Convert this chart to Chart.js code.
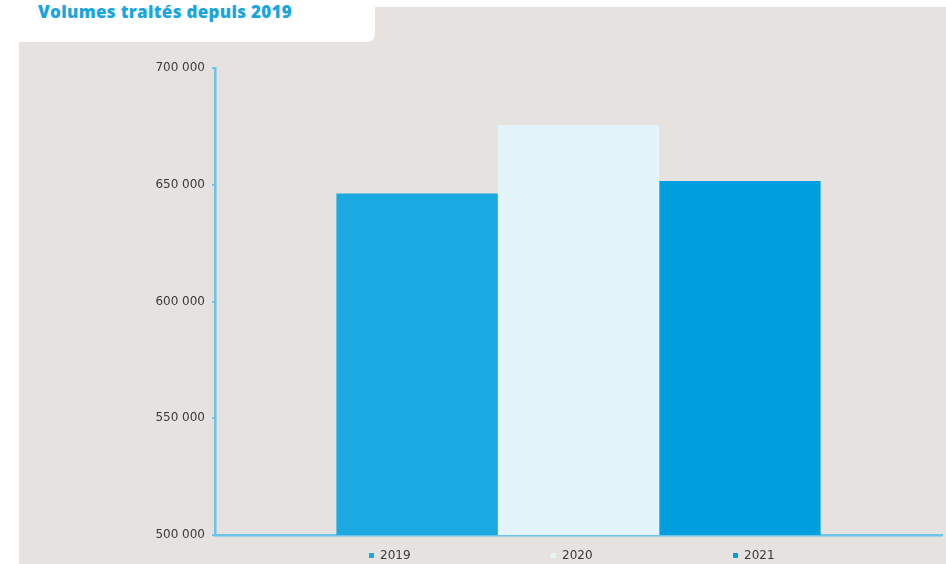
<!DOCTYPE html>
<html lang="fr">

<head>
    <meta charset="UTF-8">
    <script src="https://cdn.jsdelivr.net/npm/chart.js"></script>
    <title>Volumes traités depuis 2019</title>
    <style>
        body { margin: 0; background: #fff; width: 946px; height: 564px; position: relative; overflow: hidden; }
        #bg { position: absolute; left: 19px; top: 7px; width: 927px; height: 557px; background: #e6e2df; }
        #tab { position: absolute; left: 19px; top: 0; width: 356px; height: 42px; background: #fff; border-bottom-right-radius: 8px; }
        #title { position: absolute; left: 38px; top: 0px; font-family: "Open Sans", sans-serif; font-weight: 800; font-size: 17px; color: #1ba5de; letter-spacing: 0.3px; }
        #wrap { position: absolute; left: 0; top: 0; width: 946px; height: 564px; }
        #legend { position: absolute; left: 369px; top: 548px; display: flex; font-family: "DejaVu Sans", sans-serif; font-size: 12px; color: #3a3a3a; }
        #legend .item { width: 182px; display: flex; align-items: center; }
        #legend .box { width: 5px; height: 5px; margin-right: 6px; }
    </style>
</head>

<body>
    <div id="bg"></div>
    <div id="tab"></div>
    <div id="title">Volumes traités depuis 2019</div>
    <div id="wrap"><canvas id="myChart" width="946" height="564"></canvas></div>
    <div id="legend"></div>
    <script>
        // données
        let years = ['2019', '2020', '2021'];
        let volumes = [646300, 675600, 651600];
        let colors = ['#1ba9e1', '#e3f4fb', '#009fe0'];
        let y_min = 500000;
        let y_max = 700000;
        let y_step = 50000;

        let axisColor = '#6cc4ea';

        function formatNum(v) {
            return v.toString().replace(/\B(?=(\d{3})+(?!\d))/g, ' ');
        }

        let datasets = [];
        for (let i in years) {
            datasets.push({
                label: years[i],
                data: [volumes[i]],
                backgroundColor: colors[i],
                borderWidth: 0
            });
        }

        let configs = {
            type: 'bar',
            data: { labels: [''], datasets: datasets },
            options: {
                responsive: false,
                animation: false,
                layout: { padding: { top: 68, right: 4, bottom: 29, left: 0 } },
                datasets: { bar: { categoryPercentage: 0.666, barPercentage: 1 } },
                plugins: { legend: { display: false }, tooltip: { enabled: false } },
                scales: {
                    x: {
                        ticks: { display: false },
                        grid: { display: false },
                        border: { color: axisColor, width: 2.5 },
                        afterFit: function (scale) { scale.height = 0; }
                    },
                    y: {
                        min: y_min,
                        max: y_max,
                        ticks: {
                            stepSize: y_step,
                            padding: 7,
                            color: '#3a3a3a',
                            font: { family: 'DejaVu Sans', size: 12 },
                            callback: function (v) { return formatNum(v); }
                        },
                        grid: { drawOnChartArea: false, color: axisColor, tickLength: 3, lineWidth: 2 },
                        border: { color: axisColor, width: 2.5 },
                        afterFit: function (scale) { scale.width = 215; }
                    }
                }
            }
        };

        let myChart = new Chart(document.getElementById('myChart'), configs);

        // légende
        let legend = document.getElementById('legend');
        for (let i in years) {
            let item = document.createElement('div');
            item.className = 'item';
            let box = document.createElement('span');
            box.className = 'box';
            box.style.background = colors[i];
            let txt = document.createElement('span');
            txt.textContent = years[i];
            item.appendChild(box);
            item.appendChild(txt);
            legend.appendChild(item);
        }
    </script>
</body>

</html>
